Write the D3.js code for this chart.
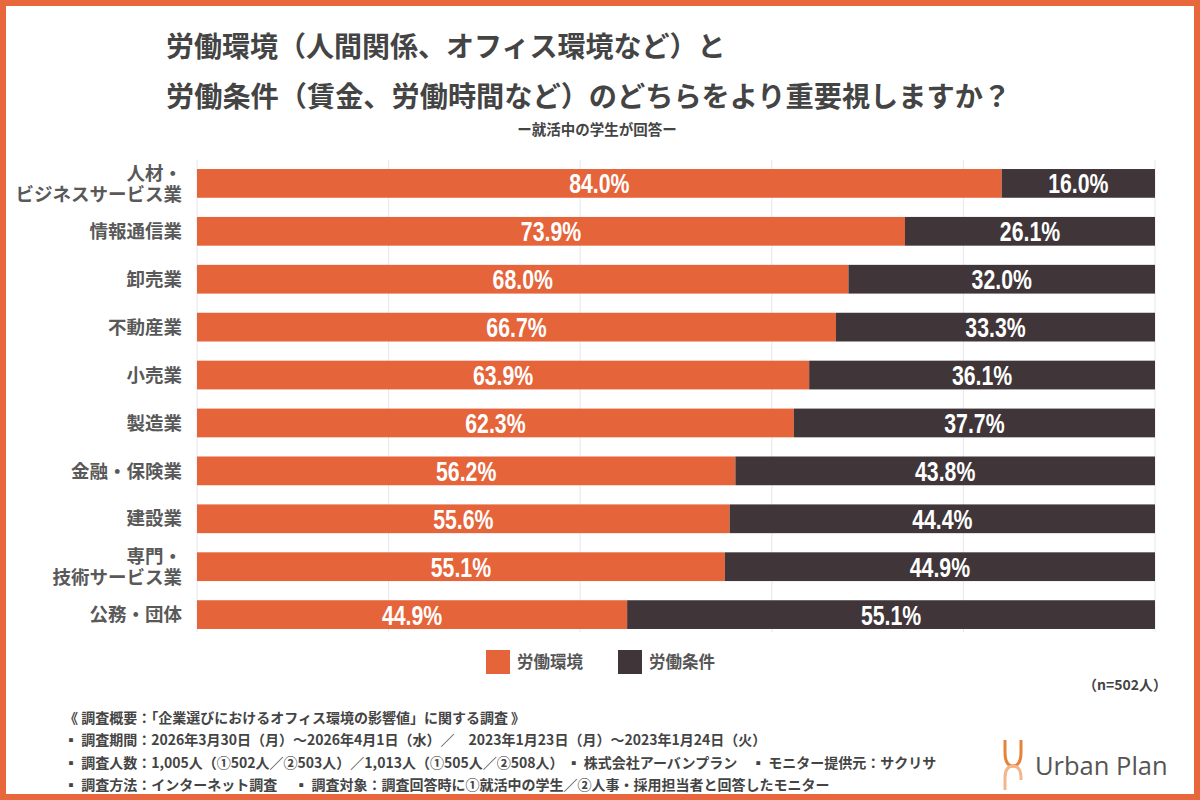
<!DOCTYPE html>
<html>
<head>
<meta charset="utf-8">
<script src="https://cdn.jsdelivr.net/npm/d3@7"></script>
<style>
  body { margin: 0; background: #fff; }
  svg { display: block; }
  .jp { font-family: "Noto Sans CJK JP", "Noto Sans", sans-serif; }
</style>
</head>
<body>
<script>
let width = 1200,
    height = 800;

let categories = ["人材・\nビジネスサービス業", "情報通信業", "卸売業", "不動産業", "小売業",
                  "製造業", "金融・保険業", "建設業", "専門・\n技術サービス業", "公務・団体"];
let environment = [84.0, 73.9, 68.0, 66.7, 63.9, 62.3, 56.2, 55.6, 55.1, 44.9];
let conditions  = [16.0, 26.1, 32.0, 33.3, 36.1, 37.7, 43.8, 44.4, 44.9, 55.1];
let seriesNames = ["労働環境", "労働条件"];
let xTicks = [0, 20, 40, 60, 80, 100];

let colors = ["#E5643A", "#40363A"];

let dataset = categories.map(function(c, i) {
    return {cat: c, env: environment[i], cond: conditions[i]};
});
let stack = d3.stack().keys(["env", "cond"]);
let series = stack(dataset);

let svg = d3.select("body")
            .append("svg")
            .attr("width", width)
            .attr("height", height);

// frame
svg.append("rect")
   .attr("x", 3).attr("y", 3)
   .attr("width", width - 6).attr("height", height - 6)
   .attr("fill", "#fff")
   .attr("stroke", "#E8673D")
   .attr("stroke-width", 6);

// title
let title = svg.append("g").attr("class", "jp")
               .attr("fill", "#444").attr("font-weight", "bold");
title.append("text").attr("x", 166).attr("y", 57).attr("font-size", 28)
     .text("労働環境（人間関係、オフィス環境など）と");
title.append("text").attr("x", 166).attr("y", 107).attr("font-size", 28.2)
     .text("労働条件（賃金、労働時間など）のどちらをより重要視しますか？");
title.append("text").attr("x", 597).attr("y", 135).attr("font-size", 14.5)
     .attr("text-anchor", "middle")
     .text("ー就活中の学生が回答ー");

var xScale = d3.scaleLinear()
               .domain([0, 100])
               .range([197, 1155]);

var yScale = d3.scaleBand()
               .domain(categories)
               .range([158, 640])
               .paddingInner(0.4)
               .paddingOuter(0.23);

// gridlines
svg.append("g")
   .selectAll("line")
   .data(xTicks)
   .enter()
   .append("line")
   .attr("x1", function(d) { return xScale(d); })
   .attr("x2", function(d) { return xScale(d); })
   .attr("y1", 160)
   .attr("y2", 632)
   .attr("stroke", "#e6e6ee")
   .attr("stroke-width", 1);

var groups = svg.selectAll("g.series")
       .data(series)
       .enter()
       .append("g")
       .attr("class", "series")
       .style("fill", function(d, i) { return colors[i]; });

groups.selectAll("rect")
       .data(function(d) { return d; })
       .enter()
       .append("rect")
       .attr("x", function(d) { return xScale(d[0]); })
       .attr("y", function(d) { return yScale(d.data.cat); })
       .attr("width", function(d) { return xScale(d[1]) - xScale(d[0]); })
       .attr("height", yScale.bandwidth());

// value labels (squeezed horizontally to look like a condensed face)
groups.selectAll("text")
       .data(function(d) { return d; })
       .enter()
       .append("text")
       .attr("transform", function(d) {
           let x = (xScale(d[0]) + xScale(d[1])) / 2,
               y = yScale(d.data.cat) + yScale.bandwidth() / 2;
           return "translate(" + x + "," + y + ") scale(0.76,1)";
       })
       .attr("dy", "0.36em")
       .attr("text-anchor", "middle")
       .attr("fill", "#fff")
       .attr("font-family", "'Liberation Sans', Arial, sans-serif")
       .attr("font-weight", "bold")
       .attr("font-size", 28)
       .text(function(d) { return (d[1] - d[0]).toFixed(1) + "%"; });

// category labels, one text per line
let labels = svg.append("g").attr("class", "jp")
                .attr("fill", "#595959").attr("font-size", 18.5)
                .attr("font-weight", "bold").attr("text-anchor", "end");
categories.forEach(function(c) {
    let lines = c.split("\n");
    let cy = yScale(c) + yScale.bandwidth() / 2;
    lines.forEach(function(l, j) {
        labels.append("text")
              .attr("x", 182)
              .attr("y", cy + (j - (lines.length - 1) / 2) * 21)
              .attr("dy", "0.36em")
              .text(l);
    });
});

// legend
let legend = svg.append("g").attr("class", "jp");
let legendX = [486, 618];
seriesNames.forEach(function(n, i) {
    legend.append("rect")
          .attr("x", legendX[i]).attr("y", 650)
          .attr("width", 24).attr("height", 24)
          .attr("fill", colors[i]);
    legend.append("text")
          .attr("x", legendX[i] + 31).attr("y", 662)
          .attr("dy", "0.36em")
          .attr("font-size", 16.5).attr("font-weight", "bold")
          .attr("fill", "#555")
          .text(n);
});

svg.append("text").attr("class", "jp")
   .attr("x", 1167).attr("y", 690)
   .attr("text-anchor", "end")
   .attr("font-size", 14).attr("font-weight", "bold").attr("fill", "#444")
   .text("（n=502人）");

// notes
let notes = ["《 調査概要：「企業選びにおけるオフィス環境の影響値」に関する調査 》",
             "▪ 調査期間：2026年3月30日（月）～2026年4月1日（水）／　2023年1月23日（月）～2023年1月24日（火）",
             "▪ 調査人数：1,005人（①502人／②503人）／1,013人（①505人／②508人）  ▪ 株式会社アーバンプラン　▪ モニター提供元：サクリサ",
             "▪ 調査方法：インターネット調査　 ▪ 調査対象：調査回答時に①就活中の学生／②人事・採用担当者と回答したモニター"];
svg.append("g").attr("class", "jp")
   .selectAll("text")
   .data(notes)
   .enter()
   .append("text")
   .attr("x", 64)
   .attr("y", function(d, i) { return 723 + i * 22.3; })
   .attr("font-size", 14)
   .attr("font-weight", "bold")
   .attr("fill", "#444")
   .text(function(d) { return d; });

// logo
let logo = svg.append("g");
logo.append("path")
    .attr("d", "M1005,740 L1005,752 Q1005,766 1013,766 Q1021,766 1021,752 L1021,740")
    .attr("fill", "none").attr("stroke", "#E8823A").attr("stroke-width", 3);
logo.append("path")
    .attr("d", "M1005,790 L1005,778 Q1005,766 1013,766 Q1021,766 1021,778 L1021,780")
    .attr("fill", "none").attr("stroke", "#F3B58A").attr("stroke-width", 3);
logo.append("text")
    .attr("x", 1035).attr("y", 775)
    .attr("font-family", "'Open Sans', sans-serif")
    .attr("font-size", 25.5)
    .attr("fill", "#555")
    .text("Urban Plan");
</script>
</body>
</html>
